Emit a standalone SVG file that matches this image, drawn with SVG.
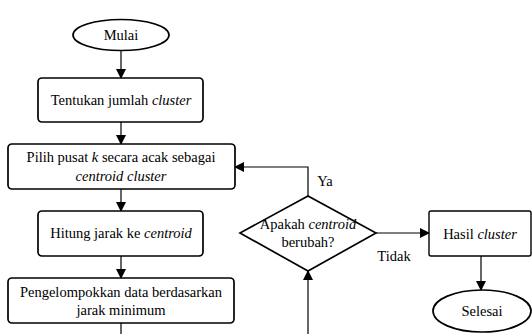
<svg xmlns="http://www.w3.org/2000/svg" width="532" height="334" viewBox="0 0 532 334">
<defs>
<marker id="ah" markerWidth="10" markerHeight="10" refX="9" refY="5" orient="auto" markerUnits="userSpaceOnUse">
<path d="M0,0 L10,5 L0,10 Z" fill="#000"/>
</marker>
<style>
.n{fill:#fff;stroke:#000;stroke-width:1.7}
.c{fill:none;stroke:#000;stroke-width:1.2}
text{font-family:"Liberation Serif","Times New Roman",serif;font-size:14.5px;fill:#000;text-anchor:middle}
.i{font-style:italic}
</style>
</defs>
<rect width="532" height="334" fill="#fff"/>
<g id="connectors">
<line class="c" x1="121" y1="50" x2="121" y2="78" marker-end="url(#ah)"/>
<line class="c" x1="121" y1="122" x2="121" y2="144" marker-end="url(#ah)"/>
<line class="c" x1="121" y1="189" x2="121" y2="211" marker-end="url(#ah)"/>
<line class="c" x1="121" y1="256" x2="121" y2="278" marker-end="url(#ah)"/>
<line class="c" x1="121" y1="323" x2="121" y2="334"/>
<polyline class="c" points="308,196 308,167 235,167" marker-end="url(#ah)"/>
<line class="c" x1="308" y1="334" x2="308" y2="271" marker-end="url(#ah)"/>
<line class="c" x1="376" y1="233" x2="429" y2="233" marker-end="url(#ah)"/>
<line class="c" x1="481" y1="256" x2="481" y2="290" marker-end="url(#ah)"/>
<text x="325" y="186">Ya</text>
<text x="394" y="261">Tidak</text>
</g>
<g id="mulai">
<ellipse class="n" cx="121" cy="35" rx="48" ry="15.5"/>
<text x="121" y="40">Mulai</text>
</g>
<g id="tentukan">
<rect class="n" x="38" y="78" width="165" height="44" rx="4"/>
<text x="121" y="105">Tentukan jumlah <tspan class="i">cluster</tspan></text>
</g>
<g id="pilih">
<rect class="n" x="8" y="144" width="227" height="45" rx="4"/>
<text x="121" y="162">Pilih pusat <tspan class="i">k</tspan> secara acak sebagai</text>
<text x="121" y="181" class="i">centroid cluster</text>
</g>
<g id="hitung">
<rect class="n" x="38" y="211" width="165" height="45" rx="4"/>
<text x="121" y="238">Hitung jarak ke <tspan class="i">centroid</tspan></text>
</g>
<g id="pengelompokkan">
<rect class="n" x="8" y="278" width="226" height="45" rx="4"/>
<text x="121" y="297">Pengelompokkan data berdasarkan</text>
<text x="121" y="315">jarak minimum</text>
</g>
<g id="apakah">
<polygon class="n" points="240,233 308,196 376,233 308,271"/>
<text x="308" y="229">Apakah <tspan class="i">centroid</tspan></text>
<text x="308" y="247">berubah?</text>
</g>
<g id="hasil">
<rect class="n" x="429" y="211" width="102" height="45" rx="2" style="stroke-width:1.4"/>
<text x="480" y="239">Hasil <tspan class="i">cluster</tspan></text>
</g>
<g id="selesai">
<ellipse class="n" cx="482" cy="311" rx="49" ry="21"/>
<text x="482" y="316">Selesai</text>
</g>
</svg>
